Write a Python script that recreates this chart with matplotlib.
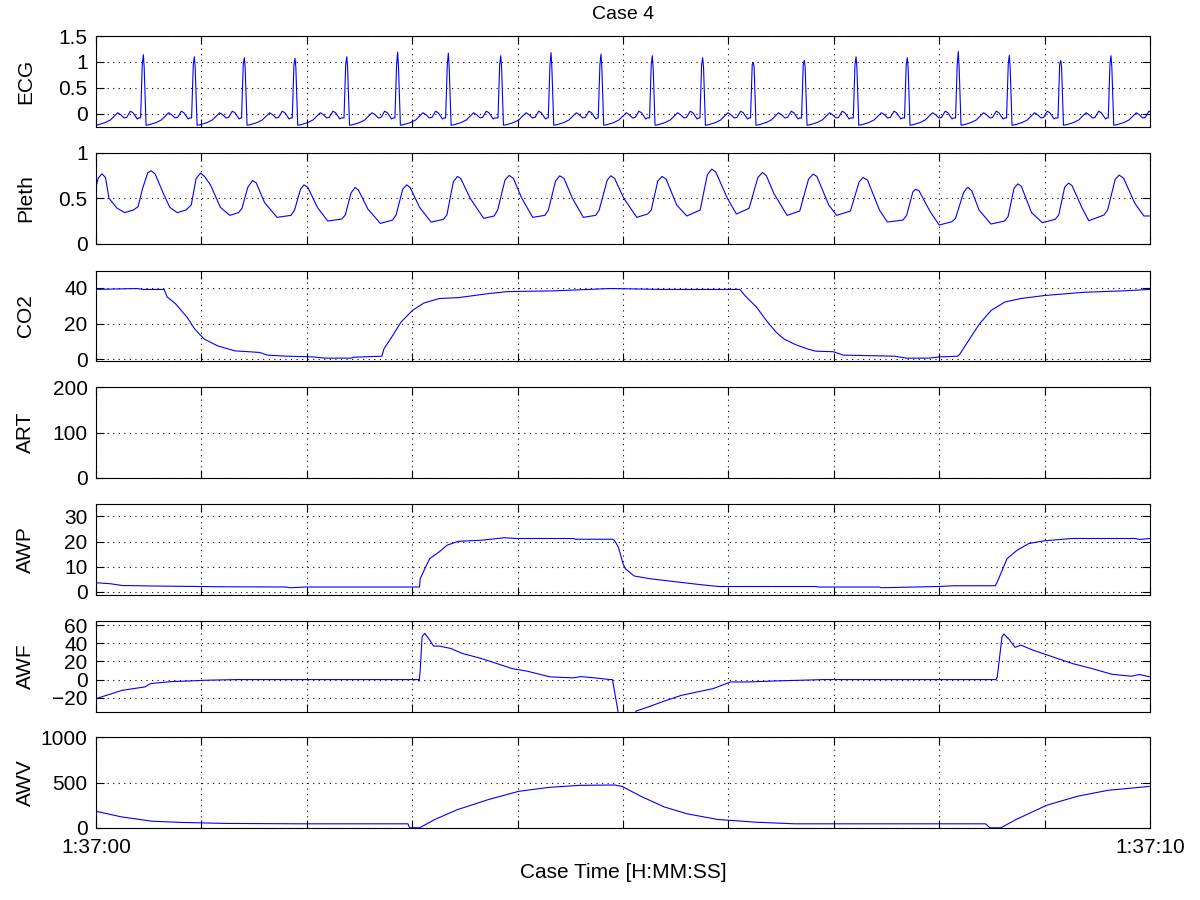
import numpy as np
import matplotlib
matplotlib.use("Agg")
import matplotlib.pyplot as plt

plt.rcParams['font.family'] = ['Liberation Sans', 'DejaVu Sans']

# ========================
# DATA (time in seconds after 1:37:00)
# ========================

# ECG: R-peak times / heights, plus one beat shape (offset from R, value)
ecg_r_times = [-0.034, 0.449, 0.933, 1.407, 1.888, 2.379, 2.862, 3.343, 3.840, 4.317, 4.791,
               5.278, 5.756, 6.236, 6.720, 7.211, 7.697, 8.181, 8.665, 9.153, 9.630]
ecg_r_heights = [1.10, 1.14, 1.10, 1.08, 1.07, 1.10, 1.19, 1.17, 1.12, 1.18, 1.15,
                 1.12, 1.08, 0.99, 1.03, 1.10, 1.08, 1.20, 1.13, 1.03, 1.12]
ecg_beat_offsets = [-0.026, -0.018, -0.010, 0.0, 0.008, 0.016, 0.026, 0.057, 0.12, 0.17,
                    0.205, 0.240, 0.270, 0.300, 0.325, 0.360, 0.385, 0.425, 0.440]
ecg_beat_values = [-0.08, 0.42, 0.95, None, 0.90, 0.40, -0.22, -0.21, -0.17, -0.12,
                   -0.05, 0.02, -0.02, -0.08, -0.07, 0.05, 0.02, -0.10, -0.08]

pleth_t = [0.0, 0.02, 0.056, 0.09, 0.123, 0.20, 0.272, 0.355, 0.399, 0.44, 0.49, 0.522, 0.56,
           0.638, 0.70, 0.771, 0.854, 0.904, 0.95, 0.993, 1.03, 1.086, 1.18, 1.269, 1.352,
           1.385, 1.44, 1.485, 1.52, 1.60, 1.718, 1.850, 1.884, 1.94, 1.973, 2.01, 2.10, 2.199,
           2.332, 2.365, 2.42, 2.458, 2.49, 2.58, 2.698, 2.814, 2.847, 2.91, 2.947, 2.98, 3.07,
           3.179, 3.296, 3.329, 3.39, 3.429, 3.46, 3.55, 3.678, 3.777, 3.811, 3.88, 3.920, 3.96,
           4.04, 4.143, 4.259, 4.292, 4.36, 4.399, 4.44, 4.52, 4.624, 4.741, 4.774, 4.85, 4.884,
           4.92, 5.007, 5.131, 5.234, 5.268, 5.33, 5.371, 5.41, 5.509, 5.605, 5.732, 5.80, 5.842,
           5.88, 5.990, 6.076, 6.196, 6.28, 6.323, 6.36, 6.430, 6.557, 6.677, 6.76, 6.804, 6.84,
           6.952, 7.027, 7.158, 7.24, 7.278, 7.32, 7.433, 7.509, 7.656, 7.691, 7.75, 7.777, 7.81,
           7.914, 8.000, 8.120, 8.155, 8.23, 8.26, 8.275, 8.31, 8.378, 8.491, 8.619, 8.653, 8.71,
           8.746, 8.78, 8.876, 8.979, 9.100, 9.134, 9.19, 9.227, 9.26, 9.357, 9.419, 9.564,
           9.598, 9.67, 9.708, 9.75, 9.856, 9.942, 10.0]
pleth_v = [0.62, 0.72, 0.77, 0.73, 0.50, 0.39, 0.341, 0.370, 0.407, 0.60, 0.78, 0.804, 0.77,
           0.556, 0.40, 0.341, 0.370, 0.426, 0.72, 0.778, 0.74, 0.648, 0.40, 0.311, 0.341,
           0.389, 0.62, 0.696, 0.67, 0.45, 0.289, 0.311, 0.370, 0.60, 0.648, 0.62, 0.40, 0.248,
           0.270, 0.315, 0.56, 0.619, 0.59, 0.38, 0.222, 0.259, 0.315, 0.60, 0.648, 0.62, 0.40,
           0.237, 0.267, 0.315, 0.68, 0.741, 0.72, 0.50, 0.278, 0.304, 0.370, 0.70, 0.752, 0.72,
           0.50, 0.289, 0.311, 0.370, 0.69, 0.748, 0.72, 0.50, 0.289, 0.311, 0.370, 0.70, 0.748,
           0.72, 0.50, 0.289, 0.326, 0.370, 0.69, 0.741, 0.71, 0.426, 0.304, 0.370, 0.76, 0.822,
           0.79, 0.50, 0.326, 0.389, 0.73, 0.785, 0.75, 0.556, 0.311, 0.359, 0.71, 0.767, 0.74,
           0.426, 0.311, 0.359, 0.68, 0.730, 0.70, 0.370, 0.237, 0.259, 0.311, 0.57, 0.600, 0.58,
           0.352, 0.204, 0.241, 0.278, 0.56, 0.61, 0.619, 0.58, 0.370, 0.215, 0.248, 0.296, 0.61,
           0.659, 0.63, 0.341, 0.230, 0.267, 0.315, 0.62, 0.667, 0.64, 0.389, 0.252, 0.315,
           0.370, 0.71, 0.756, 0.72, 0.444, 0.304, 0.304]

co2_t = [0.0, 0.39, 0.446, 0.646, 0.675, 0.754, 0.863, 0.936, 1.026, 1.153, 1.317, 1.552, 1.625,
         1.806, 2.06, 2.169, 2.423, 2.44, 2.713, 2.731, 2.804, 2.894, 3.003, 3.112, 3.257, 3.438,
         3.729, 3.91, 4.345, 4.88, 5.367, 6.109, 6.154, 6.266, 6.36, 6.453, 6.528, 6.64, 6.753,
         6.828, 6.996, 7.09, 7.577, 7.689, 7.895, 8.007, 8.176, 8.195, 8.288, 8.382, 8.494,
         8.625, 8.775, 9.0, 9.375, 9.749, 10.0]
co2_v = [39.1, 39.6, 39.1, 39.1, 34.9, 31.1, 23.6, 17.0, 11.3, 7.5, 4.7, 3.8, 2.3,
         1.7, 1.3, 0.6, 0.6, 1.1, 1.7, 5.7, 12.3, 20.8, 27.4, 31.5, 34.0, 34.5,
         36.8, 37.9, 38.3, 39.6, 39.1, 39.1, 35.8, 29.2, 21.7, 15.1, 11.3, 8.1, 5.7,
         4.5, 4.2, 2.3, 1.7, 0.6, 0.6, 1.3, 1.7, 2.8, 11.3, 19.8, 27.4,
         32.1, 34.0, 35.7, 37.5, 38.3, 39.1]

awp_t = [0.0, 0.138, 0.247, 0.537, 1.19, 1.806, 1.84, 1.988, 2.713, 3.069, 3.076, 3.112, 3.166,
         3.257, 3.33, 3.439, 3.656, 3.874, 3.983, 4.527, 4.55, 4.9, 4.918, 4.955, 5.0, 5.022,
         5.105, 5.255, 5.517, 5.742, 5.91, 6.828, 6.85, 7.427, 7.45, 7.989, 8.139, 8.532,
         8.551, 8.644, 8.738, 8.85, 9.0, 9.262, 9.861, 9.9, 10.0]
awp_v = [3.6, 3.2, 2.5, 2.3, 2.0, 1.9, 1.6, 1.9, 1.9, 1.9, 5.2, 8.5, 13.2,
         15.9, 18.5, 20.1, 20.5, 21.5, 21.2, 21.2, 20.9, 20.9, 20.5, 17.9, 11.2, 9.2,
         6.3, 5.2, 3.9, 2.8, 2.1, 2.1, 1.9, 1.9, 1.6, 2.1, 2.4, 2.4,
         3.9, 13.2, 16.5, 19.2, 20.3, 21.2, 21.2, 20.8, 21.2]

awf_t = [0.0, 0.247, 0.464, 0.519, 0.718, 0.9, 1.045, 1.335, 3.058, 3.066, 3.076, 3.094, 3.119,
         3.166, 3.203, 3.257, 3.366, 3.475, 3.656, 3.801, 3.946, 4.091, 4.309, 4.527, 4.6,
         4.73, 4.88, 4.9, 4.99, 5.124, 5.236, 5.367, 5.554, 5.704, 5.854, 6.022, 6.191,
         6.453, 6.903, 8.539, 8.551, 8.596, 8.614, 8.663, 8.719, 8.775, 8.888, 9.075, 9.262,
         9.449, 9.637, 9.824, 9.899, 10.0]
awf_v = [-21.1, -11.9, -8.1, -4.4, -2.2, -1.5, -0.7, 0.0, 0.0, -1.5, 10.4, 47.4, 51.1,
         43.7, 37.0, 37.0, 34.4, 28.9, 23.3, 17.8, 12.2, 9.3, 3.0, 1.9, 3.3,
         1.9, 0.0, 0.0, -60.0, -34.8, -30.4, -24.8, -17.4, -13.7, -10.0, -2.6, -2.6,
         -1.5, 0.0, 0.0, 3.0, 47.4, 50.4, 44.4, 35.6, 38.1, 32.6, 25.2, 17.8,
         12.2, 5.9, 3.7, 5.6, 3.0]

awv_t = [0.0, 0.24, 0.53, 0.82, 1.255, 1.98, 2.96, 2.975, 3.07, 3.215, 3.43, 3.72, 4.01, 4.30,
         4.59, 4.92, 4.99, 5.17, 5.39, 5.61, 5.90, 6.26, 6.63, 8.44, 8.48, 8.585, 8.73, 9.02,
         9.31, 9.60, 10.0]
awv_v = [183, 121, 73, 59, 48, 44, 44, 0, 0, 92, 201, 311, 403, 447,
         469, 473, 458, 348, 231, 154, 92, 62, 44, 44, 0, 0, 92, 249,
         348, 414, 458]

# build ECG polyline from the beat list
ecg_t, ecg_v = [], []
for r, h in zip(ecg_r_times, ecg_r_heights):
    for off, val in zip(ecg_beat_offsets, ecg_beat_values):
        ecg_t.append(r + off)
        ecg_v.append(h if val is None else val)

# ========================
# FIGURE
# ========================
panels = [
    ("ECG", ecg_t, ecg_v, (-0.245, 1.5), [0, 0.5, 1, 1.5], ["0", "0.5", "1", "1.5"]),
    ("Pleth", pleth_t, pleth_v, (0, 1), [0, 0.5, 1], ["0", "0.5", "1"]),
    ("CO2", co2_t, co2_v, (-1, 49.7), [0, 20, 40], None),
    ("ART", [], [], (0, 200), [0, 100, 200], None),
    ("AWP", awp_t, awp_v, (-1.2, 34.8), [0, 10, 20, 30], None),
    ("AWF", awf_t, awf_v, (-35.6, 64.4), [-20, 0, 20, 40, 60], None),
    ("AWV", awv_t, awv_v, (0, 1000), [0, 500, 1000], None),
]
tops = [36, 153, 270.5, 387.3, 504.3, 621.3, 737.3]

fig = plt.figure(figsize=(12, 9), dpi=100)
axes = []
for (name, t, v, ylim, yt, ytl), top in zip(panels, tops):
    ax = fig.add_axes([96 / 1200, 1 - (top + 90.5) / 900, 1054 / 1200, 90.5 / 900])
    if len(t):
        ax.plot(t, v, color="blue", linewidth=0.8)
    ax.set_xlim(0, 10)
    ax.set_ylim(*ylim)
    ax.set_xticks(range(11))
    ax.set_xticklabels([])
    ax.set_yticks(yt)
    if ytl:
        ax.set_yticklabels(ytl)
    ax.tick_params(direction="in", length=6, width=0.8, top=True, right=True,
                   labelsize=15, pad=6, colors="black")
    ax.grid(True, color="black", linestyle=(0, (1, 4)), linewidth=0.8)
    for s in ax.spines.values():
        s.set_linewidth(0.8)
    ax.set_ylabel(name, fontsize=15)
    ax.yaxis.set_label_coords(-0.058, 0.5)
    axes.append(ax)

axes[0].set_title("Case 4", fontsize=14, pad=12)
last = axes[-1]
last.set_xticklabels(["1:37:00"] + [""] * 9 + ["1:37:10"])
last.tick_params(axis="x", pad=7)
last.set_xlabel("Case Time [H:MM:SS]", fontsize=15, labelpad=5)

fig.savefig("out.png", dpi=100)
